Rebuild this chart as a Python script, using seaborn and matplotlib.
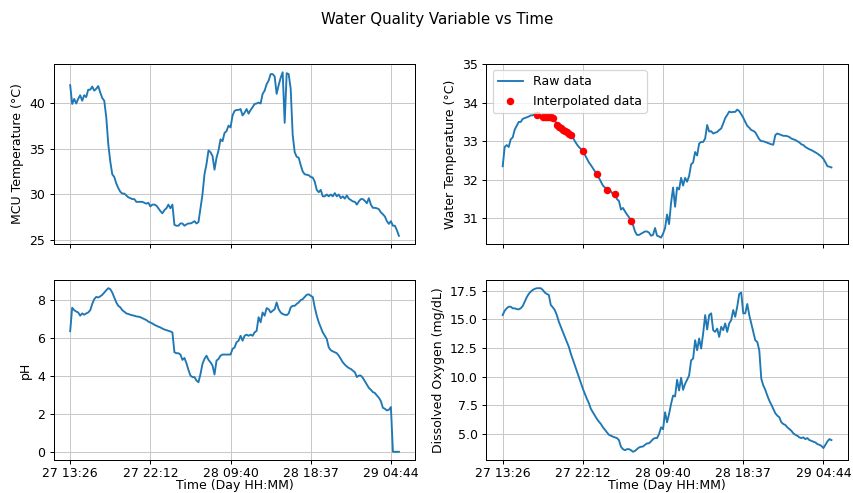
import numpy as np
import seaborn as sns
import matplotlib.pyplot as plt

# tick labels (every 40 samples)
time_labels = ["27 13:26", "27 22:12", "28 09:40", "28 18:37", "29 04:44"]
tick_step = 40

mcu_temp = [
    41.9, 39.85, 40.4, 39.9, 40.4, 40.8, 40.2, 40.8, 40.6, 41.4,
    41.4, 41.75, 41.3, 41.5, 41.8, 41.1, 40.5, 40.2, 38.4, 35.5,
    33.6, 32.2, 31.9, 31.2, 30.7, 30.3, 30.1, 30.1, 29.9, 29.7,
    29.6, 29.5, 29.5, 29.2, 29.2, 29.2, 29.2, 29.1, 29.0, 29.1,
    28.7, 28.9, 28.9, 28.8, 28.5, 28.2, 27.95, 28.3, 28.5, 28.9,
    28.5, 28.9, 26.7, 26.6, 26.6, 26.85, 26.85, 26.6, 26.75, 26.85,
    26.85, 26.95, 27.1, 26.85, 27.0, 28.5, 30.0, 32.2, 33.3, 34.8,
    34.6, 34.2, 32.7, 34.0, 34.8, 36.0, 35.8, 36.7, 36.9, 37.5,
    37.3, 38.6, 39.1, 39.2, 39.2, 39.3, 38.6, 38.9, 39.3, 38.8,
    39.2, 39.5, 39.85, 39.9, 40.0, 39.9, 40.95, 41.3, 42.0, 42.4,
    43.1, 43.1, 42.85, 40.95, 41.9, 42.7, 43.3, 37.8, 43.2, 43.1,
    41.5, 36.5, 34.6, 34.1, 34.0, 33.2, 32.5, 32.2, 32.15, 32.1,
    31.9, 31.85, 31.4, 30.5, 30.25, 30.5, 29.8, 29.8, 30.0, 29.8,
    30.0, 29.8, 30.15, 29.8, 30.0, 29.6, 29.8, 29.55, 29.9, 29.55,
    29.4, 29.25, 29.2, 28.9, 29.25, 29.5, 29.5, 29.3, 29.05, 29.6,
    28.9, 28.55, 28.55, 28.5, 28.4, 28.05, 27.85, 27.6, 27.1, 26.8,
    27.1, 26.6, 26.6, 26.1, 25.5,
]

water_temp = [
    32.35, 32.85, 32.9, 32.85, 33.05, 33.1, 33.3, 33.4, 33.5, 33.5,
    33.58, 33.6, 33.62, 33.64, 33.67, 33.67, 33.72, 33.68, 33.66, 33.65,
    33.62, 33.62, 33.62, 33.62, 33.62, 33.6, 33.55, 33.42, 33.38, 33.35,
    33.3, 33.27, 33.23, 33.2, 33.15, 33.1, 33.0, 32.92, 32.85, 32.8,
    32.74, 32.65, 32.55, 32.45, 32.38, 32.3, 32.22, 32.16, 32.05, 31.95,
    31.85, 31.8, 31.74, 31.75, 31.7, 31.62, 31.64, 31.5, 31.45, 31.23,
    31.27, 31.18, 31.1, 31.03, 30.94, 30.83, 30.66, 30.57, 30.57, 30.6,
    30.63, 30.66, 30.66, 30.63, 30.55, 30.57, 30.75, 30.55, 30.53, 30.5,
    30.6, 30.75, 31.1, 30.85, 31.4, 31.8, 31.3, 31.8, 31.75, 32.05,
    31.85, 32.05, 31.95, 32.1, 32.4, 32.45, 32.72, 32.63, 32.94, 32.98,
    32.98, 33.07, 33.42, 33.25, 33.26, 33.2, 33.22, 33.24, 33.29, 33.33,
    33.46, 33.6, 33.68, 33.77, 33.75, 33.76, 33.76, 33.82, 33.78, 33.7,
    33.61, 33.5, 33.4, 33.35, 33.29, 33.27, 33.23, 33.14, 33.05, 33.0,
    33.0, 32.98, 32.96, 32.94, 32.92, 32.91, 33.16, 33.2, 33.18, 33.16,
    33.14, 33.14, 33.13, 33.11, 33.07, 33.05, 33.03, 33.0, 32.97, 32.92,
    32.9, 32.85, 32.82, 32.79, 32.77, 32.74, 32.71, 32.68, 32.64, 32.6,
    32.54, 32.45, 32.35, 32.34, 32.32,
]

# samples of water temperature that were filled in
interp_idx = [17, 20, 21, 22, 23, 24, 25, 27, 28, 29, 30, 31, 32, 33, 34,
              40, 47, 52, 56, 64]

ph = [
    6.36, 7.6, 7.47, 7.4, 7.35, 7.18, 7.3, 7.23, 7.3, 7.35,
    7.47, 7.8, 8.05, 8.17, 8.14, 8.2, 8.28, 8.4, 8.52, 8.63,
    8.58, 8.4, 8.14, 7.88, 7.7, 7.62, 7.47, 7.39, 7.3, 7.27,
    7.23, 7.2, 7.18, 7.14, 7.13, 7.1, 7.05, 7.0, 6.95, 6.87,
    6.82, 6.77, 6.7, 6.65, 6.6, 6.56, 6.5, 6.45, 6.42, 6.38,
    6.35, 6.3, 5.25, 5.2, 5.2, 5.13, 4.85, 4.95, 4.67, 4.32,
    4.02, 3.94, 3.94, 3.76, 3.67, 4.1, 4.64, 4.9, 5.07, 4.85,
    4.72, 4.55, 4.08, 4.81, 4.9, 5.07, 5.13, 5.13, 5.13, 5.13,
    5.13, 5.43, 5.5, 5.78, 5.86, 6.12, 5.86, 6.12, 6.18, 6.12,
    6.18, 6.12, 6.3, 6.38, 7.1, 6.83, 7.35, 7.18, 7.58, 7.52,
    7.35, 7.44, 7.52, 7.88, 7.52, 7.35, 7.27, 7.23, 7.21, 7.3,
    7.62, 7.7, 7.7, 7.8, 7.88, 8.0, 8.05, 8.17, 8.28, 8.31,
    8.23, 8.17, 7.62, 7.18, 6.83, 6.56, 6.3, 6.12, 5.95, 5.5,
    5.36, 5.3, 5.25, 5.2, 5.07, 4.9, 4.72, 4.6, 4.5, 4.42,
    4.37, 4.28, 4.2, 3.94, 4.02, 4.02, 3.9, 3.72, 3.55, 3.37,
    3.27, 3.15, 3.1, 2.97, 2.85, 2.67, 2.32, 2.27, 2.18, 2.22,
    2.36, 0.0, 0.0, 0.0, 0.0,
]

dissolved_o2 = [
    15.38, 15.76, 15.97, 16.11, 16.11, 15.97, 15.97, 15.9, 15.88, 15.97,
    16.17, 16.55, 16.94, 17.23, 17.43, 17.58, 17.67, 17.73, 17.73, 17.73,
    17.58, 17.35, 17.23, 17.14, 16.26, 16.06, 15.82, 15.38, 14.8, 14.35,
    13.91, 13.47, 13.03, 12.6, 12.0, 11.48, 10.98, 10.48, 9.96, 9.43,
    8.93, 8.49, 8.05, 7.67, 7.17, 6.88, 6.58, 6.29, 6.06, 5.85,
    5.56, 5.35, 5.12, 4.91, 4.82, 4.74, 4.68, 4.62, 4.44, 3.86,
    3.65, 3.56, 3.65, 3.65, 3.56, 3.42, 3.5, 3.65, 3.8, 3.86,
    3.88, 4.03, 4.15, 4.17, 4.33, 4.53, 4.62, 4.62, 4.97, 5.56,
    5.4, 6.88, 6.0, 6.73, 7.61, 8.34, 8.26, 9.72, 8.78, 9.9,
    8.84, 9.37, 9.72, 10.1, 11.42, 11.57, 13.18, 12.3, 13.33, 12.45,
    13.77, 15.38, 14.12, 15.38, 15.53, 14.06, 13.91, 14.2, 13.47, 14.35,
    14.06, 14.65, 13.91, 14.65, 14.94, 15.82, 15.23, 16.11, 17.23, 17.35,
    15.53, 15.53, 16.35, 15.38, 14.65, 13.91, 13.18, 13.03, 12.3, 9.81,
    9.22, 8.84, 8.34, 7.9, 7.55, 7.17, 6.79, 6.58, 6.44, 6.0,
    5.85, 5.76, 5.56, 5.41, 5.26, 5.03, 4.91, 4.82, 4.68, 4.62,
    4.68, 4.53, 4.62, 4.44, 4.38, 4.3, 4.24, 4.09, 4.03, 3.94,
    3.74, 4.03, 4.33, 4.53, 4.44,
]

x = np.arange(len(mcu_temp))
wt = np.array(water_temp)

fig, axes = plt.subplots(2, 2, figsize=(853 / 90, 493 / 90), dpi=90, sharex=True)
fig.subplots_adjust(left=0.063, right=0.994, top=0.870, bottom=0.067,
                    wspace=0.196, hspace=0.2)

# MCU temp
ax = axes[0, 0]
sns.lineplot(x=x, y=mcu_temp, ax=ax)
ax.set_ylabel("MCU Temperature (°C)")

# water temp + interpolated points
ax = axes[0, 1]
sns.lineplot(x=x, y=water_temp, ax=ax, label="Raw data")
sns.scatterplot(x=x[interp_idx], y=wt[interp_idx], ax=ax, color="red",
                linewidth=0, s=36, label="Interpolated data", zorder=3)
ax.set_ylim(top=35)
ax.set_ylabel("Water Temperature (°C)")
ax.legend(loc="upper left")

# pH
ax = axes[1, 0]
sns.lineplot(x=x, y=ph, ax=ax)
ax.set_ylabel("pH")

# DO
ax = axes[1, 1]
sns.lineplot(x=x, y=dissolved_o2, ax=ax)
ax.set_ylabel("Dissolved Oxygen (mg/dL)")

ticks = np.arange(0, len(time_labels) * tick_step, tick_step)
for ax in axes.flat:
    ax.grid(True, color="#c8c8c8")
    ax.set_xticks(ticks)
for ax in axes[1]:
    ax.set_xticklabels(time_labels)
    ax.tick_params(axis="x", pad=2.5)
    ax.set_xlabel("Time (Day HH:MM)", labelpad=-1)

fig.suptitle("Water Quality Variable vs Time", x=0.513, y=0.975)
plt.savefig("out.png")
